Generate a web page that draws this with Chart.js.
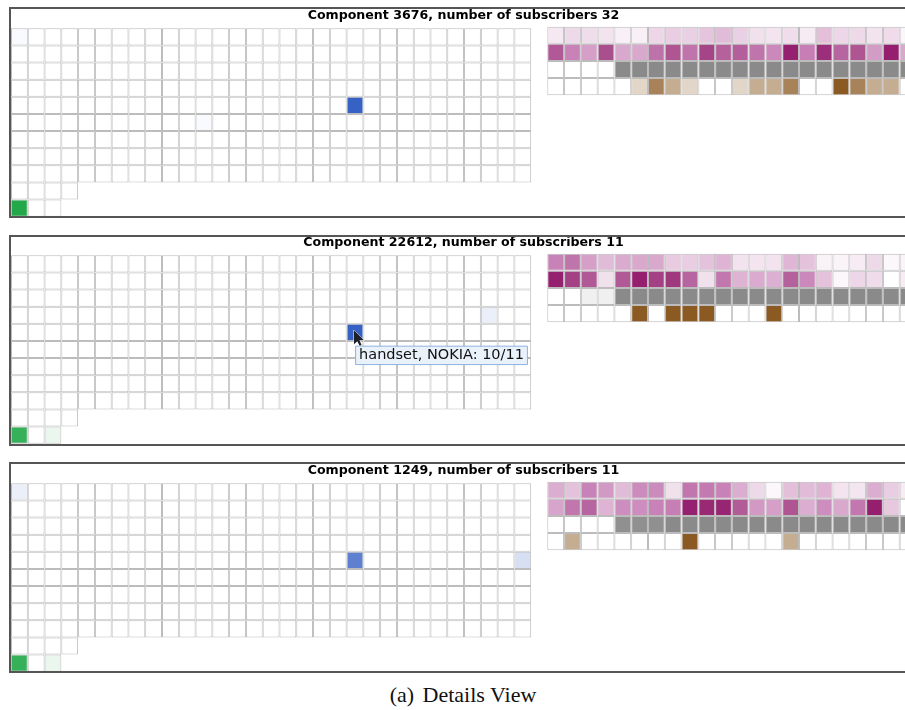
<!DOCTYPE html>
<html>
<head>
<meta charset="utf-8">
<title>Details View</title>
<script src="https://cdn.jsdelivr.net/npm/chart.js@4.4.1/dist/chart.umd.min.js"></script>
<style>
  html, body { margin: 0; padding: 0; background: #fff; overflow: hidden; }
  body { width: 905px; height: 710px; position: relative; }
  canvas { position: absolute; left: 0; }
  .frame { position: absolute; left: 9px; width: 940px; height: 207px; border: 2px solid #555; pointer-events: none; }
  .caption { position: absolute; left: 0; width: 926px; top: 683px; text-align: center;
             font: 22px/24px 'Liberation Serif', 'Times New Roman', serif; color: #111; }
  .caption span { margin-right: 3px; }
</style>
</head>
<body>
<canvas id="panel0" width="916" height="222" style="top:0px"></canvas>
<canvas id="panel1" width="916" height="222" style="top:227px"></canvas>
<canvas id="panel2" width="916" height="222" style="top:455px"></canvas>
<div class="frame" style="top:7px"></div>
<div class="frame" style="top:235px"></div>
<div class="frame" style="top:462px"></div>
<div class="caption"><span>(a)</span> Details View</div>

<script>
// --- data -------------------------------------------------------------
const COMPONENT_IDS = [3676, 22612, 1249];
const SUBSCRIBERS = [32, 11, 11];

// cells per row of the left attribute grid
const LEFT_ROW_LENGTHS = [31, 31, 31, 31, 31, 31, 31, 31, 31, 4, 3];

// non-empty cells of the left grid: [row, column, subscribers]
const COUNTS_3676 = [[0, 0, 1], [5, 11, 1], [4, 20, 29], [10, 0, 32]];
const COUNTS_22612 = [[3, 28, 1], [4, 20, 10], [10, 0, 10], [10, 2, 1]];
const COUNTS_1249 = [[0, 0, 1], [4, 20, 8], [4, 30, 2], [10, 0, 10], [10, 2, 1]];

// right grid, one list per row (visible columns only), values 0..1
const TOP_3676 = [0.12, 0.2, 0.18, 0.15, 0.08, 0.08, 0.21, 0.24, 0.23, 0.27, 0.3, 0.23, 0.16, 0.14, 0.18, 0.11, 0.29, 0.21, 0.2, 0.15, 0.19, 0.05];
const MID_3676 = [0.7, 0.5, 0.4, 0.75, 0.37, 0.37, 0.58, 0.72, 0.57, 0.8, 0.66, 0.67, 0.57, 0.48, 0.97, 0.52, 0.9, 0.64, 0.72, 0.41, 0.98, 0.37];
const GREY_3676 = [0, 0, 0, 0, 1, 1, 1, 1, 1, 1, 1, 1, 1, 1, 1, 1, 1, 1, 1, 1, 1, 1];
const BROWN_3676 = [0, 0, 0, 0, 0, 0.25, 0.75, 0.5, 0.25, 0, 0, 0.25, 0.5, 0.5, 0.75, 0, 0, 1, 0.75, 0.5, 0.5, 0];

const TOP_22612 = [0.5, 0.57, 0.4, 0.3, 0.36, 0.37, 0.37, 0.25, 0.24, 0.28, 0.33, 0.15, 0.14, 0.15, 0.32, 0.28, 0.07, 0.06, 0.1, 0.2, 0.04, 0.06];
const MID_22612 = [0.97, 0.82, 0.7, 0.16, 0.7, 0.97, 0.82, 0.86, 0.64, 0.16, 0.55, 0.33, 0.36, 0.34, 0.66, 0.48, 0.28, 0.04, 0.21, 0.19, 0, 0.1];
const GREY_22612 = [0, 0, 0.13, 0.13, 1, 1, 1, 1, 1, 1, 1, 1, 1, 1, 1, 1, 1, 1, 1, 1, 1, 1];
const BROWN_22612 = [0, 0, 0, 0, 0, 1, 0, 1, 1, 1, 0, 0, 0, 1, 0, 0, 0, 0, 0, 0, 0, 0];

const TOP_1249 = [0.35, 0.28, 0.5, 0.42, 0.3, 0.47, 0.47, 0.16, 0.56, 0.54, 0.5, 0.35, 0.2, 0.04, 0.29, 0.3, 0.33, 0.14, 0.13, 0.35, 0.24, 0.1];
const MID_1249 = [0.38, 0.56, 0.64, 0.33, 0.46, 0.46, 0.5, 0.52, 0.97, 0.93, 0.95, 0.69, 0.42, 0.4, 0.72, 0.35, 0.46, 0.37, 0.55, 0.98, 0.26, 0];
const GREY_1249 = [0, 0, 0, 0, 0.95, 0.95, 0.95, 1, 1, 1, 1, 1, 1, 1, 1, 1, 1, 1, 1, 1, 1, 1];
const BROWN_1249 = [0, 0.5, 0, 0, 0, 0, 0, 0, 1, 0, 0, 0, 0, 0, 0.5, 0, 0, 0, 0, 0, 0, 0];

// hovered cell in the second panel
const HOVER_PANEL = 1;
const HOVER_CELL = [4, 20];
const HOVER_LABEL = 'handset, NOKIA';

// --- layout / style ---------------------------------------------------
const CANVAS_W = 916;
const CANVAS_H = 222;
const PLOT_LEFT = 11;
const PLOT_TOP = 28.3;
const PLOT_BOTTOM = 216.7;
const CELL_W = 16.78;
const RIGHT_GRID_LEFT = 547.3;
const RIGHT_GRID_RAISE = 0.093; // rows
const TITLE_SIZE = 12.6;
const TITLE_PAD_TOP = 7.8;

const SCALE_BLUE = [[0, [255, 255, 255]], [1, [33, 81, 191]]];
const SCALE_GREEN = [[0, [255, 255, 255]], [1, [34, 168, 72]]];
const SCALE_PURPLE = [[0, [255, 255, 255]], [0.2, [238, 217, 233]], [0.5, [200, 130, 184]], [0.75, [170, 79, 141]], [1, [147, 26, 108]]];
const SCALE_GREY = [[0, [255, 255, 255]], [1, [138, 138, 138]]];
const SCALE_BROWN = [[0, [255, 255, 255]], [1, [139, 90, 34]]];
const RIGHT_ROW_SCALES = [SCALE_PURPLE, SCALE_PURPLE, SCALE_GREY, SCALE_BROWN];
const GREEN_FROM_ROW = 9;

function colorAt(stops, t) {
  t = Math.max(0, Math.min(1, t));
  for (let i = 1; i < stops.length; i++) {
    const [t1, c1] = stops[i];
    const [t0, c0] = stops[i - 1];
    if (t <= t1) {
      const f = (t - t0) / (t1 - t0);
      const c = c0.map((v, k) => Math.round(v + (c1[k] - v) * f));
      return `rgb(${c[0]},${c[1]},${c[2]})`;
    }
  }
  const c = stops[stops.length - 1][1];
  return `rgb(${c[0]},${c[1]},${c[2]})`;
}

function leftCells(counts, subs) {
  const cells = [];
  LEFT_ROW_LENGTHS.forEach((len, row) => {
    for (let col = 0; col < len; col++) {
      const hit = counts.find((c) => c[0] === row && c[1] === col);
      const n = hit ? hit[2] : 0;
      const scale = row >= GREEN_FROM_ROW ? SCALE_GREEN : SCALE_BLUE;
      cells.push({ x: col + 0.5, y: [row, row + 1], row, col, count: n, color: colorAt(scale, n / subs) });
    }
  });
  return cells;
}

function rightCells(rows) {
  const cells = [];
  rows.forEach((vals, row) => {
    vals.forEach((v, col) => {
      cells.push({ x: col + 0.5, y: [row, row + 1], color: colorAt(RIGHT_ROW_SCALES[row], v) });
    });
  });
  return cells;
}

Chart.Tooltip.positioners.belowCell = function (elements) {
  if (!elements.length) return false;
  const p = elements[0].element.getCenterPoint();
  return { x: p.x + 0.6, y: p.y + 13.8 };
};

const cursorPlugin = {
  id: 'cursor',
  afterDraw(chart) {
    const active = chart.tooltip && chart.tooltip.getActiveElements();
    if (!active || !active.length) return;
    const p = active[0].element.getCenterPoint();
    const x0 = p.x - 1, y0 = p.y - 2;
    const pts = [[0, 0], [0, 14], [3.3, 10.8], [5.6, 15.5], [7.6, 14.6], [5.4, 10], [9.8, 10]];
    const ctx = chart.ctx;
    ctx.save();
    ctx.beginPath();
    pts.forEach(([dx, dy], i) => (i ? ctx.lineTo(x0 + dx, y0 + dy) : ctx.moveTo(x0 + dx, y0 + dy)));
    ctx.closePath();
    ctx.fillStyle = '#1d1f2b';
    ctx.strokeStyle = '#ffffff';
    ctx.lineWidth = 1;
    ctx.stroke();
    ctx.fill();
    ctx.restore();
  },
};

const PANEL_COUNTS = [COUNTS_3676, COUNTS_22612, COUNTS_1249];
const PANEL_RIGHT = [
  [TOP_3676, MID_3676, GREY_3676, BROWN_3676],
  [TOP_22612, MID_22612, GREY_22612, BROWN_22612],
  [TOP_1249, MID_1249, GREY_1249, BROWN_1249],
];

const plotWidth = CANVAS_W - PLOT_LEFT;
const xMaxCols = plotWidth / CELL_W;
const rightOffset = (RIGHT_GRID_LEFT - PLOT_LEFT) / CELL_W;
const rows = LEFT_ROW_LENGTHS.length;

function hiddenLinear(axis, min, max, reverse) {
  return {
    type: 'linear', axis, display: false, offset: false, reverse: !!reverse,
    min, max, ticks: { stepSize: 1000 }, grid: { display: false },
  };
}

const cellStyle = {
  borderColor: '#bcbcbc',
  borderWidth: 1,
  borderSkipped: false,
  inflateAmount: 0,
  grouped: false,
  barPercentage: 1,
  categoryPercentage: 1,
  clip: false,
};

const charts = COMPONENT_IDS.map((id, i) => {
  const subs = SUBSCRIBERS[i];
  const left = leftCells(PANEL_COUNTS[i], subs);
  const right = rightCells(PANEL_RIGHT[i]);
  const chart = new Chart(document.getElementById('panel' + i), {
    type: 'bar',
    data: {
      datasets: [
        Object.assign({ data: left, backgroundColor: left.map((c) => c.color), xAxisID: 'xL', yAxisID: 'yL' }, cellStyle),
        Object.assign({ data: right, backgroundColor: right.map((c) => c.color), xAxisID: 'xR', yAxisID: 'yR' }, cellStyle),
      ],
    },
    options: {
      responsive: false,
      animation: false,
      events: [],
      layout: { padding: { left: PLOT_LEFT, right: 0, top: 0, bottom: CANVAS_H - PLOT_BOTTOM } },
      plugins: {
        legend: { display: false },
        title: {
          display: true,
          text: `Component ${id}, number of subscribers ${subs}`,
          color: '#000',
          font: { family: 'DejaVu Sans', weight: 'bold', size: TITLE_SIZE, lineHeight: 1.2 },
          padding: { top: TITLE_PAD_TOP, bottom: PLOT_TOP - TITLE_PAD_TOP - TITLE_SIZE * 1.2 },
        },
        tooltip: {
          enabled: true,
          position: 'belowCell',
          xAlign: 'left',
          yAlign: 'top',
          caretSize: 0,
          caretPadding: 0,
          cornerRadius: 0,
          displayColors: false,
          backgroundColor: '#e9f1fb',
          borderColor: '#8db3de',
          borderWidth: 1,
          bodyColor: '#111',
          bodyFont: { family: 'DejaVu Sans', size: 14.5, lineHeight: 1.2 },
          padding: { left: 3.5, right: 3.5, top: 0.5, bottom: 0.5 },
          filter: (item) => item.datasetIndex === 0,
          callbacks: {
            title: () => '',
            label: (item) => `${HOVER_LABEL}: ${item.raw.count}/${subs}`,
          },
        },
      },
      scales: {
        xL: hiddenLinear('x', 0, xMaxCols),
        xR: hiddenLinear('x', -rightOffset, xMaxCols - rightOffset),
        yL: hiddenLinear('y', 0, rows, true),
        yR: hiddenLinear('y', RIGHT_GRID_RAISE, rows + RIGHT_GRID_RAISE, true),
      },
    },
    plugins: [cursorPlugin],
  });
  return chart;
});

// show the hovered cell's tooltip
const hc = charts[HOVER_PANEL];
const hoverIndex = hc.data.datasets[0].data.findIndex((c) => c.row === HOVER_CELL[0] && c.col === HOVER_CELL[1]);
const hoverEl = hc.getDatasetMeta(0).data[hoverIndex];
hc.tooltip.setActiveElements([{ datasetIndex: 0, index: hoverIndex }], { x: hoverEl.x, y: hoverEl.y });
hc.update();
</script>
</body>
</html>
